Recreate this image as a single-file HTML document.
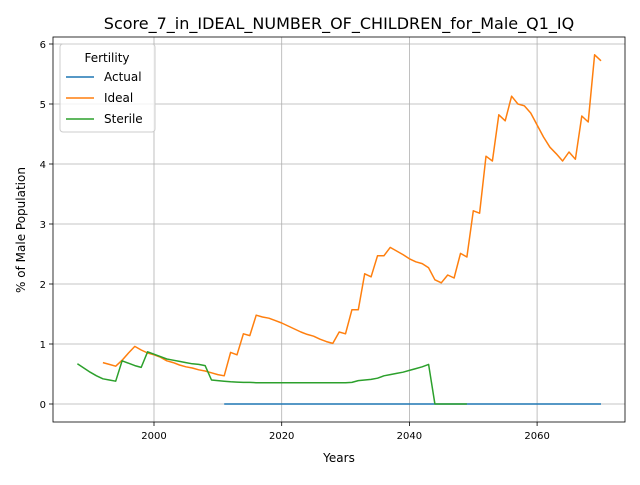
<!DOCTYPE html>
<html><head><meta charset="utf-8"><style>
body{margin:0;background:#fff;font-family:"Liberation Sans","DejaVu Sans",sans-serif;}
svg text{font-family:"DejaVu Sans","Liberation Sans",sans-serif;}
</style></head><body>
<svg id="chart" width="640" height="480" viewBox="0 0 640 480">
<rect width="640" height="480" fill="#fff"/>
<text x="339" y="29" font-size="16" text-anchor="middle">Score_7_in_IDEAL_NUMBER_OF_CHILDREN_for_Male_Q1_IQ</text>
<g id="grid"></g><g id="series"></g><g id="axes"></g>
<text x="339" y="462" font-size="12" text-anchor="middle">Years</text>
<text x="25" y="230" font-size="12" text-anchor="middle" transform="rotate(-90 25 230)">% of Male Population</text>
<g>
<rect x="60" y="44" width="95" height="88" rx="3" fill="#fff" fill-opacity="0.8" stroke="#ccc"/>
<text x="107" y="62" font-size="12" text-anchor="middle">Fertility</text>
<g><line x1="66" x2="94" y1="77" y2="77" stroke="#1f77b4" stroke-width="1.5"/><text x="104" y="81" font-size="12">Actual</text></g>
<g><line x1="66" x2="94" y1="98" y2="98" stroke="#ff7f0e" stroke-width="1.5"/><text x="104" y="102" font-size="12">Ideal</text></g>
<g><line x1="66" x2="94" y1="119" y2="119" stroke="#2ca02c" stroke-width="1.5"/><text x="104" y="123" font-size="12">Sterile</text></g>
</g>
</svg>
<script>
const xTicks=[2000,2020,2040,2060];
const yTicks=[0,1,2,3,4,5,6];
const actualStart=2011;
const actualValues=new Array(60).fill(0);
const idealStart=1992;
const idealValues=[0.69,0.66,0.63,0.73,0.85,0.96,0.90,0.85,0.82,0.78,0.72,0.69,0.65,0.62,0.60,0.57,0.55,0.52,0.49,0.47,0.86,0.82,1.17,1.14,1.48,1.45,1.43,1.39,1.35,1.30,1.25,1.20,1.16,1.13,1.08,1.04,1.01,1.20,1.17,1.57,1.57,2.17,2.12,2.47,2.47,2.61,2.55,2.49,2.42,2.37,2.34,2.27,2.07,2.02,2.15,2.10,2.51,2.45,3.22,3.18,4.13,4.05,4.82,4.72,5.13,5.00,4.97,4.85,4.65,4.45,4.28,4.17,4.05,4.20,4.08,4.80,4.70,5.82,5.72];
const sterileStart=1988;
const sterileValues=[0.67,0.60,0.53,0.47,0.42,0.40,0.38,0.72,0.68,0.64,0.61,0.87,0.83,0.79,0.75,0.73,0.71,0.69,0.67,0.66,0.64,0.40,0.39,0.38,0.37,0.365,0.36,0.36,0.355,0.355,0.355,0.355,0.355,0.355,0.355,0.355,0.355,0.355,0.355,0.355,0.355,0.355,0.355,0.36,0.39,0.40,0.41,0.43,0.47,0.49,0.51,0.53,0.56,0.59,0.62,0.66,0,0,0,0,0,0];
const L=53,R=625,T=37,B=422;
const xs=y=>154+(y-2000)*6.385;
const ys=v=>404-v*60;
const NS='http://www.w3.org/2000/svg';
function mk(t,a,p){const e=document.createElementNS(NS,t);for(const k in a)e.setAttribute(k,a[k]);p.appendChild(e);return e;}
const grid=document.getElementById('grid'),axes=document.getElementById('axes'),ser=document.getElementById('series');
xTicks.forEach(t=>{const x=xs(t);
const g=mk('line',{x1:x,x2:x,y1:T,y2:B,stroke:'#b0b0b0','stroke-width':0.8},grid);


mk('line',{x1:x,x2:x,y1:B,y2:B+4,stroke:'#000','stroke-width':0.8},axes);
const tx=mk('text',{x:x,y:B+17,'font-size':10,'text-anchor':'middle'},axes);tx.textContent=t;

});
yTicks.forEach(t=>{const y=ys(t);
const g=mk('line',{x1:L,x2:R,y1:y,y2:y,stroke:'#b0b0b0','stroke-width':0.8},grid);


mk('line',{x1:L-4,x2:L,y1:y,y2:y,stroke:'#000','stroke-width':0.8},axes);
const tx=mk('text',{x:L-7,y:y+4,'font-size':10,'text-anchor':'end'},axes);tx.textContent=t;

});
const fr=mk('rect',{x:L,y:T,width:R-L,height:B-T,fill:'none',stroke:'#000','stroke-width':0.8},axes);


function line(start,vals,color,name){
const pts=vals.map((v,i)=>xs(start+i).toFixed(1)+','+ys(v).toFixed(1)).join(' ');
const p=mk('polyline',{points:pts,fill:'none',stroke:color,'stroke-width':1.5,'stroke-linejoin':'round'},ser);

}
line(actualStart,actualValues,'#1f77b4','actual-line');
line(idealStart,idealValues,'#ff7f0e','ideal-line');
line(sterileStart,sterileValues,'#2ca02c','sterile-line');
</script>
</body></html>
